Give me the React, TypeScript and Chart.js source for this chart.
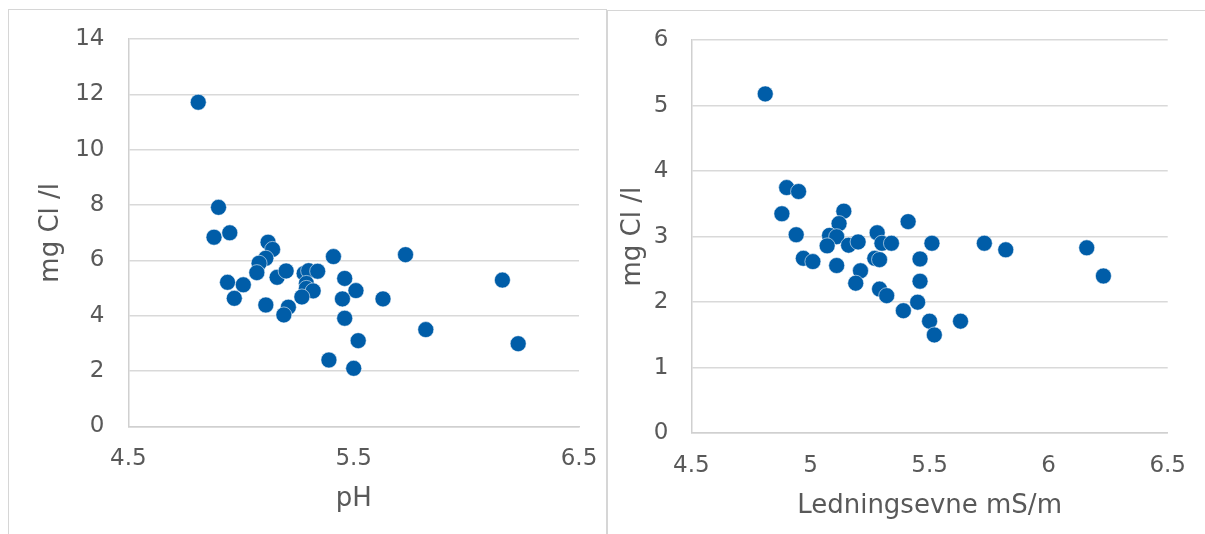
import React, { useEffect, useRef } from "react";
import { Chart, registerables } from "chart.js";

Chart.register(...registerables);

// ---- Data ----
// Left chart: pH vs chloride
const phValues = [4.81, 4.90, 4.88, 4.95, 5.12, 5.14, 5.11, 5.08, 5.07, 4.94, 5.01, 4.97, 5.16, 5.20, 5.11, 5.21, 5.19, 5.28, 5.30, 5.34, 5.29, 5.29, 5.32, 5.27, 5.41, 5.46, 5.51, 5.45, 5.46, 5.52, 5.39, 5.50, 5.63, 5.73, 6.16, 5.82, 6.23];
const chlorideByPh = [11.72, 7.92, 6.84, 7.00, 6.66, 6.40, 6.08, 5.90, 5.56, 5.21, 5.12, 4.63, 5.39, 5.62, 4.39, 4.31, 4.03, 5.53, 5.63, 5.61, 5.17, 4.99, 4.90, 4.68, 6.14, 5.35, 4.91, 4.61, 3.91, 3.10, 2.40, 2.10, 4.61, 6.21, 5.29, 3.50, 2.99];

// Right chart: conductivity vs chloride
const conductivityValues = [4.81, 4.90, 4.95, 4.88, 4.94, 4.97, 5.01, 5.14, 5.12, 5.08, 5.11, 5.07, 5.16, 5.20, 5.11, 5.21, 5.19, 5.28, 5.30, 5.34, 5.27, 5.29, 5.29, 5.32, 5.41, 5.51, 5.46, 5.46, 5.45, 5.39, 5.50, 5.52, 5.63, 5.73, 5.82, 6.16, 6.23];
const chlorideByConductivity = [5.18, 3.75, 3.69, 3.35, 3.03, 2.67, 2.62, 3.39, 3.20, 3.02, 3.00, 2.86, 2.87, 2.92, 2.56, 2.48, 2.29, 3.06, 2.90, 2.90, 2.67, 2.65, 2.20, 2.10, 3.23, 2.90, 2.66, 2.32, 2.00, 1.87, 1.71, 1.50, 1.71, 2.90, 2.80, 2.83, 2.40];

// Tick labels
const phTicks = [4.5, 5.5, 6.5];
const chlorideTicksLeft = [0, 2, 4, 6, 8, 10, 12, 14];
const conductivityTicks = [4.5, 5, 5.5, 6, 6.5];
const chlorideTicksRight = [0, 1, 2, 3, 4, 5, 6];

const xTitleLeft = "pH";
const xTitleRight = "Ledningsevne mS/m";
const yTitle = "mg Cl /l";

// ---- Styles ----
const W = 1205;
const H = 534;
const TEXT = "#595959";
const GRID = "#d9d9d9";
const AXIS = "#d0d0d0";
const DOT = "#005da8";
const FONT = "'DejaVu Sans', Verdana, sans-serif";
const TICK_SIZE = 23;
const TITLE_SIZE = 26;

type Spec = {
  xs: number[];
  ys: number[];
  xTicks: number[];
  yTicks: number[];
  xTitle: string;
  padLeft: number;
  yWidth: number;
  padTop: number;
  padRight: number;
  xHeight: number;
  xTitlePadBottom: number;
  yTickPad: number;
};

function makeChart(canvas: HTMLCanvasElement, s: Spec) {
  return new Chart(canvas, {
    type: "scatter",
    data: {
      datasets: [
        {
          data: s.xs.map((x, i) => ({ x, y: s.ys[i] })),
          backgroundColor: DOT,
          borderColor: "rgba(255,255,255,0.55)",
          borderWidth: 1,
          pointRadius: 8,
          pointHoverRadius: 8,
        },
      ],
    },
    options: {
      responsive: false,
      animation: false,
      devicePixelRatio: 1,
      events: [],
      layout: { padding: { left: s.padLeft, top: s.padTop, right: s.padRight, bottom: 0 } },
      plugins: { legend: { display: false }, tooltip: { enabled: false }, title: { display: false } },
      scales: {
        x: {
          type: "linear",
          min: s.xTicks[0],
          max: s.xTicks[s.xTicks.length - 1],
          afterBuildTicks: (sc: any) => {
            sc.ticks = s.xTicks.map((v) => ({ value: v }));
          },
          afterFit: (sc: any) => {
            sc.height = s.xHeight;
          },
          grid: { display: true, color: "rgba(0,0,0,0)", drawTicks: false },
          border: { display: true, color: AXIS, width: 1.5 },
          ticks: {
            color: TEXT,
            font: { family: FONT, size: TICK_SIZE },
            padding: 19,
            maxRotation: 0,
            autoSkip: false,
            callback: (v: any) => String(v),
          },
          title: {
            display: true,
            text: s.xTitle,
            color: TEXT,
            font: { family: FONT, size: TITLE_SIZE },
            padding: { top: 0, bottom: s.xTitlePadBottom },
          },
        },
        y: {
          type: "linear",
          min: s.yTicks[0],
          max: s.yTicks[s.yTicks.length - 1],
          afterBuildTicks: (sc: any) => {
            sc.ticks = s.yTicks.map((v) => ({ value: v }));
          },
          afterFit: (sc: any) => {
            sc.width = s.yWidth;
          },
          grid: { display: true, color: GRID, lineWidth: 1.5, drawTicks: false },
          border: { display: true, color: AXIS, width: 1.5 },
          ticks: {
            color: TEXT,
            font: { family: FONT, size: TICK_SIZE },
            padding: s.yTickPad,
            autoSkip: false,
            callback: (v: any) => String(v),
          },
          title: {
            display: true,
            text: yTitle,
            color: TEXT,
            font: { family: FONT, size: TITLE_SIZE },
            padding: { top: 0, bottom: 0 },
          },
        },
      },
    },
  } as any);
}

export default function App() {
  const leftRef = useRef<HTMLCanvasElement | null>(null);
  const rightRef = useRef<HTMLCanvasElement | null>(null);

  useEffect(() => {
    const charts: Chart[] = [];
    if (leftRef.current) {
      charts.push(
        makeChart(leftRef.current, {
          xs: phValues,
          ys: chlorideByPh,
          xTicks: phTicks,
          yTicks: chlorideTicksLeft,
          xTitle: xTitleLeft,
          padLeft: 36,
          yWidth: 92.4,
          padTop: 39.2,
          padRight: W - 579,
          xHeight: H - 426.4,
          xTitlePadBottom: 19.4,
          yTickPad: 24,
        })
      );
    }
    if (rightRef.current) {
      charts.push(
        makeChart(rightRef.current, {
          xs: conductivityValues,
          ys: chlorideByConductivity,
          xTicks: conductivityTicks,
          yTicks: chlorideTicksRight,
          xTitle: xTitleRight,
          padLeft: 617.4,
          yWidth: 74,
          padTop: 40.2,
          padRight: W - 1178.7,
          xHeight: H - 433.2,
          xTitlePadBottom: 12,
          yTickPad: 23,
        })
      );
    }
    return () => charts.forEach((c) => c.destroy());
  }, []);

  const canvasStyle: React.CSSProperties = {
    position: "absolute",
    left: 0,
    top: 0,
    width: W,
    height: H,
  };

  return (
    <div
      style={{
        position: "absolute",
        left: 0,
        top: 0,
        width: W,
        height: H,
        overflow: "hidden",
        background: "#ffffff",
      }}
    >
      <div
        style={{
          position: "absolute",
          left: 8,
          top: 9,
          width: 599,
          height: 700,
          boxSizing: "border-box",
          border: "1px solid #d6d6d6",
        }}
      />
      <div
        style={{
          position: "absolute",
          left: 607,
          top: 10,
          width: 700,
          height: 700,
          boxSizing: "border-box",
          border: "1px solid #d6d6d6",
        }}
      />
      <canvas ref={leftRef} width={W} height={H} style={canvasStyle} />
      <canvas ref={rightRef} width={W} height={H} style={canvasStyle} />
    </div>
  );
}
